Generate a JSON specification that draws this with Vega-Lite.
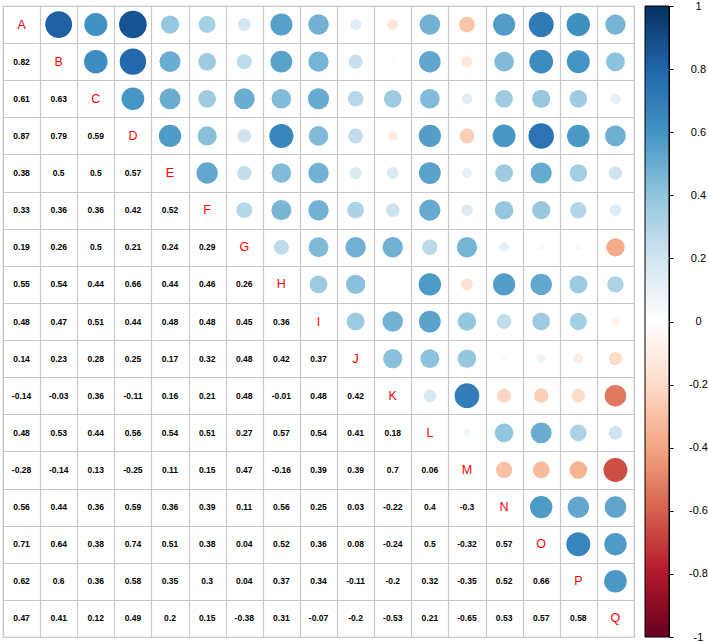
{
  "$schema": "https://vega.github.io/schema/vega-lite/v6.json",
  "padding": {"left": 2, "top": 0, "right": 0, "bottom": 0},
  "background": "white",
  "spacing": 9,
  "config": {"font": "Liberation Sans", "view": {"stroke": "#c8c8c8", "strokeWidth": 1.2}},
  "datasets": {
    "cor": [
      {"row":"B","col":"A","r":0.82},
      {"row":"C","col":"A","r":0.61},{"row":"C","col":"B","r":0.63},
      {"row":"D","col":"A","r":0.87},{"row":"D","col":"B","r":0.79},{"row":"D","col":"C","r":0.59},
      {"row":"E","col":"A","r":0.38},{"row":"E","col":"B","r":0.5},{"row":"E","col":"C","r":0.5},{"row":"E","col":"D","r":0.57},
      {"row":"F","col":"A","r":0.33},{"row":"F","col":"B","r":0.36},{"row":"F","col":"C","r":0.36},{"row":"F","col":"D","r":0.42},{"row":"F","col":"E","r":0.52},
      {"row":"G","col":"A","r":0.19},{"row":"G","col":"B","r":0.26},{"row":"G","col":"C","r":0.5},{"row":"G","col":"D","r":0.21},{"row":"G","col":"E","r":0.24},{"row":"G","col":"F","r":0.29},
      {"row":"H","col":"A","r":0.55},{"row":"H","col":"B","r":0.54},{"row":"H","col":"C","r":0.44},{"row":"H","col":"D","r":0.66},{"row":"H","col":"E","r":0.44},{"row":"H","col":"F","r":0.46},{"row":"H","col":"G","r":0.26},
      {"row":"I","col":"A","r":0.48},{"row":"I","col":"B","r":0.47},{"row":"I","col":"C","r":0.51},{"row":"I","col":"D","r":0.44},{"row":"I","col":"E","r":0.48},{"row":"I","col":"F","r":0.48},{"row":"I","col":"G","r":0.45},{"row":"I","col":"H","r":0.36},
      {"row":"J","col":"A","r":0.14},{"row":"J","col":"B","r":0.23},{"row":"J","col":"C","r":0.28},{"row":"J","col":"D","r":0.25},{"row":"J","col":"E","r":0.17},{"row":"J","col":"F","r":0.32},{"row":"J","col":"G","r":0.48},{"row":"J","col":"H","r":0.42},{"row":"J","col":"I","r":0.37},
      {"row":"K","col":"A","r":-0.14},{"row":"K","col":"B","r":-0.03},{"row":"K","col":"C","r":0.36},{"row":"K","col":"D","r":-0.11},{"row":"K","col":"E","r":0.16},{"row":"K","col":"F","r":0.21},{"row":"K","col":"G","r":0.48},{"row":"K","col":"H","r":-0.01},{"row":"K","col":"I","r":0.48},{"row":"K","col":"J","r":0.42},
      {"row":"L","col":"A","r":0.48},{"row":"L","col":"B","r":0.53},{"row":"L","col":"C","r":0.44},{"row":"L","col":"D","r":0.56},{"row":"L","col":"E","r":0.54},{"row":"L","col":"F","r":0.51},{"row":"L","col":"G","r":0.27},{"row":"L","col":"H","r":0.57},{"row":"L","col":"I","r":0.54},{"row":"L","col":"J","r":0.41},{"row":"L","col":"K","r":0.18},
      {"row":"M","col":"A","r":-0.28},{"row":"M","col":"B","r":-0.14},{"row":"M","col":"C","r":0.13},{"row":"M","col":"D","r":-0.25},{"row":"M","col":"E","r":0.11},{"row":"M","col":"F","r":0.15},{"row":"M","col":"G","r":0.47},{"row":"M","col":"H","r":-0.16},{"row":"M","col":"I","r":0.39},{"row":"M","col":"J","r":0.39},{"row":"M","col":"K","r":0.7},{"row":"M","col":"L","r":0.06},
      {"row":"N","col":"A","r":0.56},{"row":"N","col":"B","r":0.44},{"row":"N","col":"C","r":0.36},{"row":"N","col":"D","r":0.59},{"row":"N","col":"E","r":0.36},{"row":"N","col":"F","r":0.39},{"row":"N","col":"G","r":0.11},{"row":"N","col":"H","r":0.56},{"row":"N","col":"I","r":0.25},{"row":"N","col":"J","r":0.03},{"row":"N","col":"K","r":-0.22},{"row":"N","col":"L","r":0.4},{"row":"N","col":"M","r":-0.3},
      {"row":"O","col":"A","r":0.71},{"row":"O","col":"B","r":0.64},{"row":"O","col":"C","r":0.38},{"row":"O","col":"D","r":0.74},{"row":"O","col":"E","r":0.51},{"row":"O","col":"F","r":0.38},{"row":"O","col":"G","r":0.04},{"row":"O","col":"H","r":0.52},{"row":"O","col":"I","r":0.36},{"row":"O","col":"J","r":0.08},{"row":"O","col":"K","r":-0.24},{"row":"O","col":"L","r":0.5},{"row":"O","col":"M","r":-0.32},{"row":"O","col":"N","r":0.57},
      {"row":"P","col":"A","r":0.62},{"row":"P","col":"B","r":0.6},{"row":"P","col":"C","r":0.36},{"row":"P","col":"D","r":0.58},{"row":"P","col":"E","r":0.35},{"row":"P","col":"F","r":0.3},{"row":"P","col":"G","r":0.04},{"row":"P","col":"H","r":0.37},{"row":"P","col":"I","r":0.34},{"row":"P","col":"J","r":-0.11},{"row":"P","col":"K","r":-0.2},{"row":"P","col":"L","r":0.32},{"row":"P","col":"M","r":-0.35},{"row":"P","col":"N","r":0.52},{"row":"P","col":"O","r":0.66},
      {"row":"Q","col":"A","r":0.47},{"row":"Q","col":"B","r":0.41},{"row":"Q","col":"C","r":0.12},{"row":"Q","col":"D","r":0.49},{"row":"Q","col":"E","r":0.2},{"row":"Q","col":"F","r":0.15},{"row":"Q","col":"G","r":-0.38},{"row":"Q","col":"H","r":0.31},{"row":"Q","col":"I","r":-0.07},{"row":"Q","col":"J","r":-0.2},{"row":"Q","col":"K","r":-0.53},{"row":"Q","col":"L","r":0.21},{"row":"Q","col":"M","r":-0.65},{"row":"Q","col":"N","r":0.53},{"row":"Q","col":"O","r":0.57},{"row":"Q","col":"P","r":0.58}
    ],
    "vars": [
      {"v":"A"},{"v":"B"},{"v":"C"},{"v":"D"},{"v":"E"},{"v":"F"},{"v":"G"},{"v":"H"},{"v":"I"},{"v":"J"},{"v":"K"},{"v":"L"},{"v":"M"},{"v":"N"},{"v":"O"},{"v":"P"},{"v":"Q"}
    ],
    "bar": [{"lo": -1, "hi": 1}]
  },
  "hconcat": [
    {
      "width": 631,
      "height": 631,
      "layer": [
        {
          "data": {"name": "cor"},
          "mark": {"type": "text", "font": "Liberation Sans", "fontSize": 8.5, "fontWeight": "bold", "color": "black"},
          "encoding": {
            "x": {"field": "col", "type": "nominal"},
            "y": {"field": "row", "type": "nominal"},
            "text": {"field": "r", "type": "nominal"}
          }
        },
        {
          "data": {"name": "cor"},
          "transform": [{"calculate": "abs(datum.r)", "as": "a"}],
          "mark": {"type": "circle", "opacity": 1},
          "encoding": {
            "x": {"field": "row", "type": "nominal"},
            "y": {"field": "col", "type": "nominal"},
            "size": {"field": "a", "type": "quantitative", "scale": {"domain": [0, 1], "range": [0, 876]}, "legend": null},
            "color": {"field": "r", "type": "quantitative", "legend": null,
              "scale": {"domain": [-1, -0.8, -0.6, -0.4, -0.2, 0, 0.2, 0.4, 0.6, 0.8, 1],
                        "range": ["#67001F", "#B2182B", "#D6604D", "#F4A582", "#FDDBC7", "#FFFFFF", "#D1E5F0", "#92C5DE", "#4393C3", "#2166AC", "#053061"],
                        "interpolate": "rgb"}}
          }
        },
        {
          "data": {"name": "vars"},
          "mark": {"type": "text", "font": "Liberation Sans", "fontSize": 12.5, "color": "#FF0000"},
          "encoding": {
            "x": {"field": "v", "type": "nominal"},
            "y": {"field": "v", "type": "nominal"},
            "text": {"field": "v", "type": "nominal"}
          }
        }
      ],
      "resolve": {"scale": {"color": "independent"}},
      "encoding": {
        "x": {"scale": {"domain": ["A","B","C","D","E","F","G","H","I","J","K","L","M","N","O","P","Q"], "paddingInner": 0, "paddingOuter": 0},
              "axis": {"orient": "top", "title": null, "labels": false, "ticks": false, "domain": false, "grid": true, "tickBand": "extent", "gridColor": "#c8c8c8", "gridWidth": 1.2}},
        "y": {"scale": {"domain": ["A","B","C","D","E","F","G","H","I","J","K","L","M","N","O","P","Q"], "paddingInner": 0, "paddingOuter": 0},
              "axis": {"title": null, "labels": false, "ticks": false, "domain": false, "grid": true, "tickBand": "extent", "gridColor": "#c8c8c8", "gridWidth": 1.2}}
      }
    },
    {
      "width": 24,
      "height": 631,
      "view": {"stroke": null},
      "data": {"name": "bar"},
      "mark": {"type": "rect", "stroke": "black", "strokeWidth": 1,
        "color": {"gradient": "linear", "x1": 0, "y1": 1, "x2": 0, "y2": 0,
          "stops": [
            {"offset": 0, "color": "#67001F"}, {"offset": 0.1, "color": "#B2182B"}, {"offset": 0.2, "color": "#D6604D"},
            {"offset": 0.3, "color": "#F4A582"}, {"offset": 0.4, "color": "#FDDBC7"}, {"offset": 0.5, "color": "#FFFFFF"},
            {"offset": 0.6, "color": "#D1E5F0"}, {"offset": 0.7, "color": "#92C5DE"}, {"offset": 0.8, "color": "#4393C3"},
            {"offset": 0.9, "color": "#2166AC"}, {"offset": 1, "color": "#053061"}]}},
      "encoding": {
        "y": {"field": "lo", "type": "quantitative", "scale": {"domain": [-1, 1], "nice": false},
              "axis": {"orient": "right", "title": null, "values": [-1, -0.8, -0.6, -0.4, -0.2, 0, 0.2, 0.4, 0.6, 0.8, 1],
                       "labelExpr": "replace(format(datum.value, '.1~f'), '\u2212', '-')",
                       "tickSize": 4, "tickColor": "black", "domainColor": "black", "labelColor": "black",
                       "labelFont": "Liberation Sans", "labelFontSize": 11, "labelAlign": "center", "labelPadding": 25, "grid": false}},
        "y2": {"field": "hi"}
      }
    }
  ]
}
